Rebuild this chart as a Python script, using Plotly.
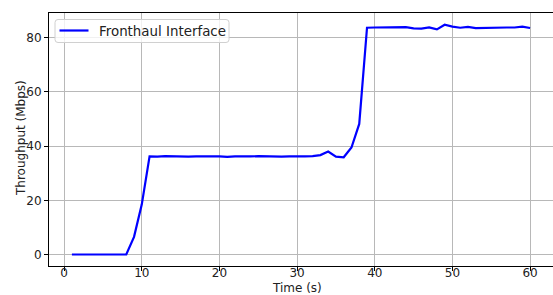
import plotly.graph_objects as go

time_s = list(range(1, 61))
throughput = [
    0, 0, 0, 0, 0, 0, 0, 0, 6.5, 18.5,
    36.2, 36.1, 36.3, 36.2, 36.2, 36.1, 36.2, 36.3, 36.2, 36.2,
    36.0, 36.2, 36.1, 36.2, 36.3, 36.2, 36.2, 36.1, 36.2, 36.1,
    36.2, 36.3, 36.7, 38.0, 36.1, 35.9, 39.5, 48.2, 83.7, 83.8,
    83.8, 83.8, 83.7, 83.9, 83.5, 83.4, 83.8, 83.1, 84.8, 84.1,
    83.7, 84.0, 83.6, 83.7, 83.7, 83.7, 83.8, 83.8, 84.1, 83.6,
]
series_name = "Fronthaul Interface"
x_label = "Time (s)"
y_label = "Throughput (Mbps)"

W, H = 553, 295
ML, MR, MT, MB = 49, 0, 13, 29
PW, PH = W - ML - MR, H - MT - MB
LINE_COLOR = "#0000ff"


def px(x):
    return (x - ML) / PW


def py(y):
    return (H - MB - y) / PH


fig = go.Figure()
fig.add_trace(go.Scatter(
    x=time_s, y=throughput, mode="lines", name=series_name,
    line=dict(color=LINE_COLOR, width=2.2), showlegend=False,
))

font = dict(family="DejaVu Sans", size=12, color="#222222")
axis_common = dict(
    showline=True, linecolor="black", linewidth=1, mirror=True,
    showgrid=True, gridcolor="#b8b8b8", gridwidth=1,
    ticks="outside", ticklen=4, tickcolor="black", tickwidth=1,
    zeroline=False, tickfont=font, automargin=False,
)

# legend box (rounded rectangle) drawn in paper coordinates
x0, x1, y0, y1, r = 55, 229, 19.5, 42.5, 3
rx, ry = r / PW, r / PH
X0, X1, Y0, Y1 = px(x0), px(x1), py(y1), py(y0)
path = (f"M {X0+rx},{Y0} L {X1-rx},{Y0} Q {X1},{Y0} {X1},{Y0+ry} "
        f"L {X1},{Y1-ry} Q {X1},{Y1} {X1-rx},{Y1} L {X0+rx},{Y1} "
        f"Q {X0},{Y1} {X0},{Y1-ry} L {X0},{Y0+ry} Q {X0},{Y0} {X0+rx},{Y0} Z")

fig.update_layout(
    width=W, height=H,
    margin=dict(l=ML, r=MR, t=MT, b=MB, autoexpand=False),
    paper_bgcolor="white", plot_bgcolor="white",
    font=font,
    showlegend=False,
    xaxis=dict(range=[-1.95, 62.95], tickvals=[0, 10, 20, 30, 40, 50, 60],
               ticklabelstandoff=-8, **axis_common),
    yaxis=dict(range=[-4.25, 89.15], tickvals=[0, 20, 40, 60, 80], **axis_common),
    shapes=[
        dict(type="path", path=path, xref="paper", yref="paper",
             fillcolor="rgba(255,255,255,0.8)", line=dict(color="#d0d0d0", width=1)),
        dict(type="line", xref="paper", yref="paper",
             x0=px(59.5), x1=px(88.5), y0=py(30.5), y1=py(30.5),
             line=dict(color=LINE_COLOR, width=2.2)),
    ],
    annotations=[
        dict(text=series_name, xref="paper", yref="paper", showarrow=False,
             x=px(96.5), y=py(31), xanchor="left", yanchor="middle",
             font=dict(family="DejaVu Sans", size=13.4, color="#222222")),
        dict(text=x_label, xref="paper", yref="paper", showarrow=False,
             x=px(297), y=py(288), xanchor="center", yanchor="middle",
             font=font),
        dict(text=y_label, xref="paper", yref="paper", showarrow=False, textangle=-90,
             x=px(20.5), y=py(138.5), xanchor="center", yanchor="middle",
             font=font),
    ],
)
fig.write_html("out.html", config={"displayModeBar": False},
               post_script="document.body.style.margin='0';document.body.style.padding='0';")
